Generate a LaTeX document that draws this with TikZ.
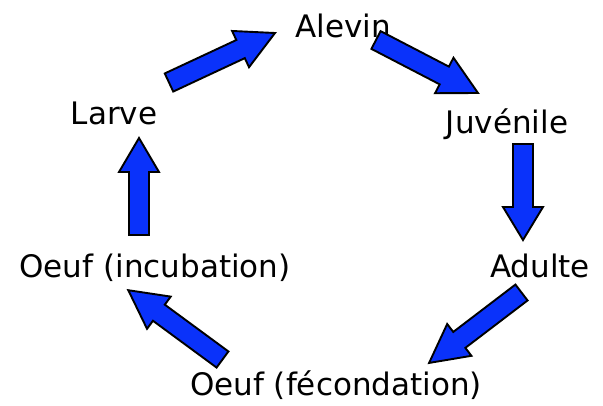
\documentclass[tikz,border=0pt]{standalone}
\usepackage{fontspec}
\setmainfont{DejaVu Sans}
\usetikzlibrary{calc}
\definecolor{arrowblue}{RGB}{10,50,250}
\tikzset{
  stage/.style={anchor=base, inner sep=0pt, font=\fontsize{31}{36}\selectfont},
  blockarrow/.style={draw=black, line width=1.9pt, fill=arrowblue, line join=miter}
}
\newcommand{\blockarr}[3][38]{%
  \draw[blockarrow] let \p1=($(#3)-(#2)$), \n1={atan2(\y1,\x1)}, \n2={veclen(\x1,\y1)} in
    [shift={(#2)}, rotate=\n1]
    (0pt,-10pt) -- (\n2-#1pt,-10pt) -- (\n2-#1pt,-20pt) -- (\n2,0pt)
    -- (\n2-#1pt,20pt) -- (\n2-#1pt,10pt) -- (0pt,10pt) -- cycle;}
\begin{document}
\begin{tikzpicture}[x=1pt,y=-1pt]
\useasboundingbox (0,0) rectangle (603,405);
% stages
\node[stage] (alevin) at (343,37) {Alevin};
\node[stage] (juvenile) at (507,133) {Juvénile};
\node[stage] (adulte) at (540,277) {Adulte};
\node[stage] (fecond) at (336,395) {Oeuf (fécondation)};
\node[stage] (incub) at (155,277) {Oeuf (incubation)};
\node[stage] (larve) at (114,124) {Larve};
% arrow ends
\coordinate (a1t) at (169,82.5); \coordinate (a1h) at (275,33);
\coordinate (a2t) at (376,40);   \coordinate (a2h) at (478,93);
\coordinate (a3t) at (523,144);  \coordinate (a3h) at (523,240);
\coordinate (a4t) at (521.5,292.5); \coordinate (a4h) at (429,363);
\coordinate (a5t) at (222.5,359.5); \coordinate (a5h) at (128,290);
\coordinate (a6t) at (139,235);  \coordinate (a6h) at (139,138);
\blockarr{a1t}{a1h}
\blockarr{a2t}{a2h}
\blockarr[33]{a3t}{a3h}
\blockarr{a4t}{a4h}
\blockarr{a5t}{a5h}
\blockarr[34]{a6t}{a6h}
\end{tikzpicture}
\end{document}
